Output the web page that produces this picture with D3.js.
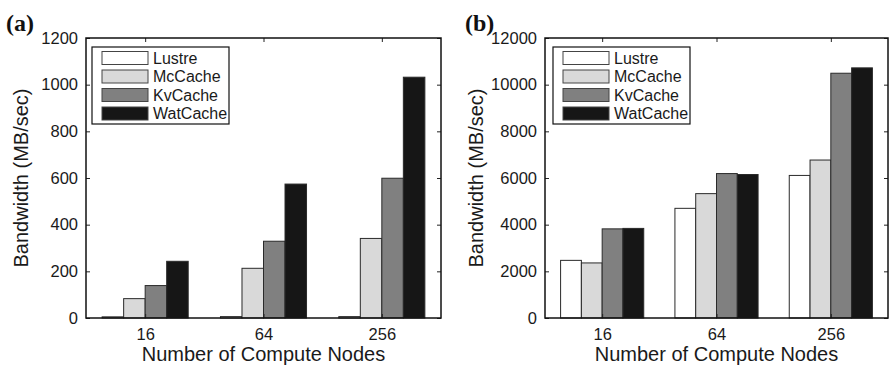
<!DOCTYPE html>
<html lang="en">
<head>
    <meta charset="UTF-8">
    <title>bandwidth</title>
    <script src="https://d3js.org/d3.v7.min.js"></script>
    <style>
        body { margin: 0; background: #fff; }
    </style>
</head>
<body>
<script>
    const width = 890
    const height = 370
    const nodes = ['16', '64', '256']
    const series = ['Lustre', 'McCache', 'KvCache', 'WatCache']
    const colors = ['#ffffff', '#d9d9d9', '#808080', '#161616']
    // panel (a)
    const lustreA = [5, 6, 6]
    const mcA = [83, 213, 341]
    const kvA = [139, 329, 599]
    const watA = [243, 574, 1032]
    const ticksA = [0, 200, 400, 600, 800, 1000, 1200]
    // panel (b)
    const lustreB = [2470, 4700, 6110]
    const mcB = [2360, 5330, 6770]
    const kvB = [3820, 6190, 10490]
    const watB = [3840, 6150, 10720]
    const ticksB = [0, 2000, 4000, 6000, 8000, 10000, 12000]

    var svg = d3.select("body")
        .append("svg")
        .attr("width", width)
        .attr("height", height)
        .attr("font-family", "Liberation Sans, Arial, sans-serif")

    function panel(tag, left, right, vals, ticks, ymax, legX, ylabX) {
        const top = 38, bottom = 318
        var g = svg.append("g")
        var x0 = d3.scaleBand().domain(nodes).range([left, right])
        var gw = x0.bandwidth() * 4 / 5.5
        var x1 = d3.scaleBand().domain(series).range([-gw / 2, gw / 2])
        var y = d3.scaleLinear().domain([0, ymax]).range([bottom, top])

        // bars
        nodes.forEach(function (n, i) {
            g.append("g")
                .selectAll("rect")
                .data(series)
                .enter()
                .append("rect")
                .attr("x", d => x0(n) + x0.bandwidth() / 2 + x1(d))
                .attr("width", x1.bandwidth())
                .attr("y", (d, j) => y(vals[j][i]))
                .attr("height", (d, j) => bottom - y(vals[j][i]))
                .attr("fill", (d, j) => colors[j])
                .attr("stroke", "#2a2a2a")
                .attr("stroke-width", 1)
        })

        // axes, ticks inward like matlab
        var xc = d => x0(d) + x0.bandwidth() / 2
        var xp = d3.scalePoint().domain(nodes).range([xc('16'), xc('256')])
        g.append("g").attr("transform", "translate(0," + bottom + ")")
            .call(d3.axisBottom(xp).tickSizeInner(-4).tickSizeOuter(0).tickPadding(10))
        g.append("g").attr("transform", "translate(0," + top + ")")
            .call(d3.axisTop(xp).tickSizeInner(-4).tickSizeOuter(0).tickFormat(""))
        g.append("g").attr("transform", "translate(" + left + ",0)")
            .call(d3.axisLeft(y).tickValues(ticks).tickFormat(d3.format("d")).tickSizeInner(-4).tickSizeOuter(0).tickPadding(8))
        g.append("g").attr("transform", "translate(" + right + ",0)")
            .call(d3.axisRight(y).tickValues(ticks).tickSizeInner(-4).tickSizeOuter(0).tickFormat(""))
        g.selectAll(".domain").remove()
        g.selectAll(".tick line").attr("stroke", "#222")
        g.selectAll(".tick text").attr("font-size", 16.5).attr("font-family", "Liberation Sans").attr("fill", "#1a1a1a")
        g.append("rect")
            .attr("x", left).attr("y", top)
            .attr("width", right - left).attr("height", bottom - top)
            .attr("fill", "none").attr("stroke", "#111").attr("stroke-width", 1.5)

        // labels
        g.append("text")
            .text("Number of Compute Nodes")
            .attr("x", (left + right) / 2).attr("y", 361)
            .attr("text-anchor", "middle").attr("font-size", 20).attr("fill", "#1a1a1a")
        g.append("text")
            .text("Bandwidth (MB/sec)")
            .attr("transform", "translate(" + ylabX + "," + ((top + bottom) / 2) + ") rotate(-90)")
            .attr("text-anchor", "middle").attr("font-size", 20).attr("fill", "#1a1a1a")
        g.append("text")
            .text(tag)
            .attr("x", left - 80).attr("y", 31)
            .attr("font-family", "Liberation Serif").attr("font-weight", "bold").attr("font-size", 24)
            .attr("fill", "#111")

        // legend
        var lg = g.append("g").attr("transform", "translate(" + legX + ",47)")
        lg.append("rect").attr("width", 137).attr("height", 77)
            .attr("fill", "#fff").attr("stroke", "#111").attr("stroke-width", 1.2)
        series.forEach(function (s, j) {
            lg.append("rect")
                .attr("x", 10).attr("y", 4.5 + j * 18.5)
                .attr("width", 46).attr("height", 13)
                .attr("fill", colors[j]).attr("stroke", "#444").attr("stroke-width", 1)
            lg.append("text")
                .text(s)
                .attr("x", 61).attr("y", 16.5 + j * 18.5)
                .attr("font-size", 16).attr("fill", "#1a1a1a")
        })
    }

    panel("(a)", 86, 441, [lustreA, mcA, kvA, watA], ticksA, 1200, 92, 28)
    panel("(b)", 545, 888, [lustreB, mcB, kvB, watB], ticksB, 12000, 553, 483)
</script>
</body>
</html>
